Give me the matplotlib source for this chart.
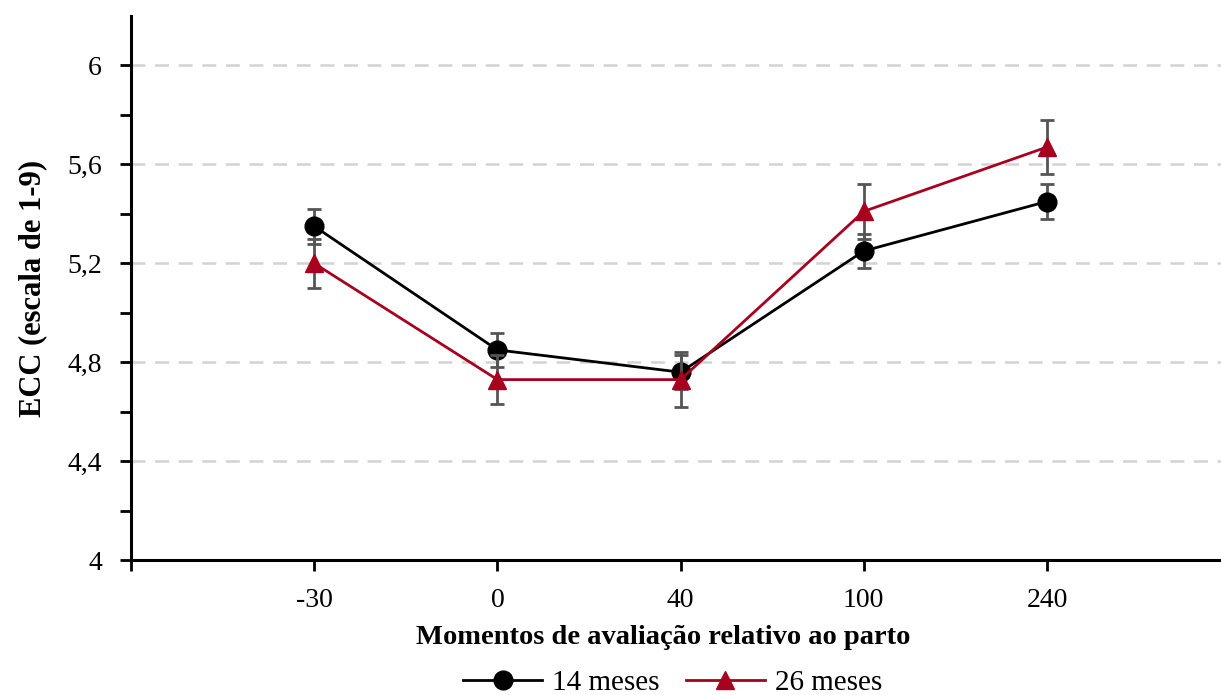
import matplotlib.pyplot as plt
from matplotlib.lines import Line2D
import numpy as np

# Dados: ECC por momento de avaliacao
momentos = ['-30', '0', '40', '100', '240']
ecc_14 = [5.35, 4.85, 4.76, 5.25, 5.45]
erro_14 = [0.07, 0.07, 0.07, 0.07, 0.07]
ecc_26 = [5.20, 4.73, 4.73, 5.41, 5.67]
erro_26 = [0.10, 0.10, 0.11, 0.11, 0.11]

cor_14 = 'black'
cor_26 = '#a8001f'

plt.rcParams['font.family'] = ['Liberation Serif', 'DejaVu Serif']
plt.rcParams['lines.scale_dashes'] = False

fig = plt.figure(figsize=(12.21, 6.95), dpi=100)
ax = fig.add_axes([0.1073, 0.194, 0.8927, 0.783])

x = np.arange(1, len(momentos) + 1)

ax.errorbar(x, ecc_14, yerr=erro_14, color=cor_14, lw=2,
            marker='o', ms=13.5, ecolor='#555555', elinewidth=2,
            capsize=5, capthick=2, zorder=3)
ax.errorbar(x, ecc_26, yerr=erro_26, color=cor_26, lw=2,
            marker='^', ms=13.5, ecolor='#555555', elinewidth=2,
            capsize=5, capthick=2, zorder=4)

# Eixos
ax.set_xlim(0, 5.95)
ax.set_ylim(4, 6.2)
ax.set_xticks([0] + list(x))
ax.set_xticklabels([''] + momentos, fontsize=20)
ax.set_yticks([4, 4.4, 4.8, 5.2, 5.6, 6])
ax.set_yticklabels(['4', '4,4', '4,8', '5,2', '5,6', '6'], fontsize=20)
ax.set_yticks([4.2, 4.6, 5.0, 5.4, 5.8], minor=True)
ax.tick_params(axis='both', which='major', length=8, width=2, direction='out')
ax.tick_params(axis='y', pad=13)
ax.tick_params(axis='x', pad=12)
ax.tick_params(axis='y', which='minor', length=8, width=2, direction='out')

for lado in ['top', 'right']:
    ax.spines[lado].set_visible(False)
for lado in ['left', 'bottom']:
    ax.spines[lado].set_linewidth(2.2)

for yv in [4.4, 4.8, 5.2, 5.6, 6.0]:
    ax.axhline(yv, color='#d3d3d3', lw=1.8, dashes=(10, 7), zorder=1)

ax.set_xlabel('Momentos de avaliação relativo ao parto', fontsize=20.5,
              fontweight='bold')
ax.xaxis.set_label_coords(0.488, -0.12)
ax.set_ylabel('ECC (escala de 1-9)', fontsize=22, fontweight='bold', labelpad=14)

# Legenda sem barras de erro
leg_14 = Line2D([], [], color=cor_14, lw=2, marker='o', ms=13.5, label='14 meses')
leg_26 = Line2D([], [], color=cor_26, lw=2, marker='^', ms=13.5, label='26 meses')
fig.legend(handles=[leg_14, leg_26], loc='center', ncol=2, frameon=False,
           fontsize=21, bbox_to_anchor=(0.551, 0.017), handlelength=2.7,
           columnspacing=0.9, handletextpad=0.35, borderpad=0)

fig.savefig('out.png', dpi=100)
